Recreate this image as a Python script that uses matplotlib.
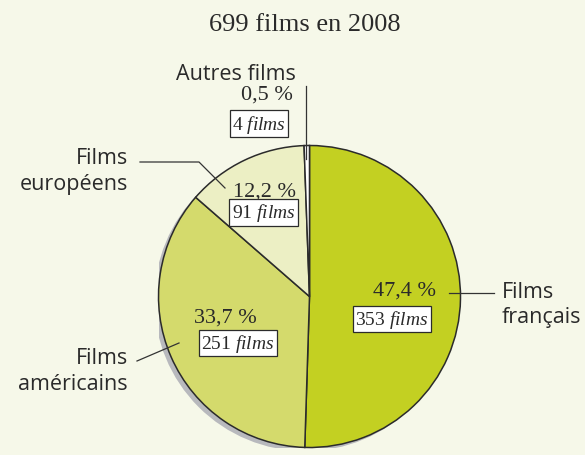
import matplotlib.pyplot as plt
from matplotlib.patches import Circle

plt.rcParams['mathtext.fontset'] = 'custom'
plt.rcParams['mathtext.rm'] = 'Liberation Serif'
plt.rcParams['mathtext.it'] = 'Liberation Serif:italic'

# data
categories = ['Films français', 'Films américains', 'Films européens', 'Autres films']
counts = [353, 251, 91, 4]
percents = ['47,4 %', '33,7 %', '12,2 %', '0,5 %']
colors = ['#c3d022', '#d4da6c', '#ecefc4', '#ffffff']
title = '699 films en 2008'

W, H = 585, 456
bg = '#f6f8e9'
fig = plt.figure(figsize=(W / 100, H / 100), dpi=100, facecolor=bg)


def px(x, y):
    # pixel coords (from top-left) to figure fraction
    return x / W, 1 - y / H


# pie axes
cx, cy, r = 309.5, 297.5, 151
ax = fig.add_axes([(cx - r) / W, (H - cy - r) / H, 2 * r / W, 2 * r / H])
ax.set_facecolor('none')
ax.add_patch(Circle((-0.028, -0.024), 1.0, color='#b8b9bd', zorder=0, lw=0))
ax.pie(counts, colors=colors, startangle=90, counterclock=False,
       wedgeprops=dict(edgecolor='#2b2b2b', linewidth=1.1))
ax.set_xlim(-1.0, 1.0)
ax.set_ylim(-1.0, 1.0)
ax.set_aspect('equal')
ax.axis('off')

serif = 'Liberation Serif'
sans = 'Open Sans'
tc = '#2a2a2a'

fig.text(*px(305, 31), title, ha='center', va='baseline', fontsize=19,
         family=serif, color=tc)

# category labels, one text per line (x, baseline)
label_lines = [
    ('Autres films', 236, 80, 'center'),
    ('Films', 128, 164, 'right'),
    ('européens', 128, 190, 'right'),
    ('Films', 128, 364, 'right'),
    ('américains', 128, 390, 'right'),
    ('Films', 502, 298, 'left'),
    ('français', 502, 323, 'left'),
]
for s, x, y, ha in label_lines:
    fig.text(*px(x, y), s, ha=ha, va='baseline', fontsize=15.5,
             family=sans, color=tc)

# percentages and counts
pct_pos = [(436, 296), (257, 323), (296, 197), (293, 100)]
box_pos = [(392, 320), (238, 344), (263.5, 213.5), (259, 124.5)]
box = dict(boxstyle='square,pad=0.12', facecolor='white', edgecolor='#2b2b2b', lw=0.9)
for p, n, (x1, y1), (x2, y2) in zip(percents, counts, pct_pos, box_pos):
    fig.text(*px(x1, y1), p, ha='right', va='baseline', fontsize=16,
             family=serif, color=tc)
    fig.text(*px(x2, y2), str(n) + r' $\mathit{films}$', ha='center', va='center',
             fontsize=14, family=serif, color=tc, bbox=box)

# leader lines
lines = [
    ([306, 306], [87, 160]),
    ([140, 199, 225], [163, 163, 189]),
    ([137, 179], [362, 344]),
    ([449, 494], [294, 294]),
]
for xs, ys in lines:
    fig.add_artist(plt.Line2D([x / W for x in xs], [1 - y / H for y in ys],
                              color='#333333', lw=0.9))

fig.savefig('out.png', dpi=100, facecolor=bg)
